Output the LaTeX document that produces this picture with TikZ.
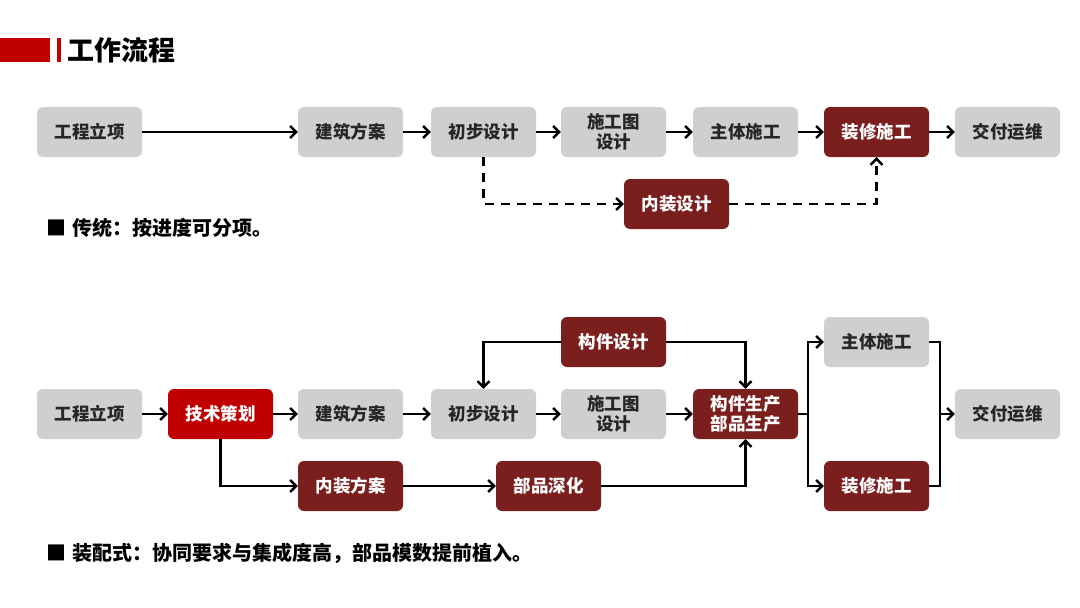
\documentclass[tikz,border=0pt]{standalone}
\usepackage{fontspec}
\setmainfont{Noto Sans CJK SC}
\usetikzlibrary{arrows.meta,positioning}
\definecolor{boxgray}{HTML}{D0CECE}
\definecolor{darkred}{HTML}{7A1E1E}
\definecolor{brightred}{HTML}{C00000}
\definecolor{titlered}{HTML}{C00000}
\definecolor{txt}{HTML}{262626}
\tikzset{
  gbox/.style={rectangle, rounded corners=6pt, fill=boxgray, minimum width=105pt, minimum height=50pt, inner sep=0pt, align=center, font=\fontsize{17.5}{20}\selectfont\bfseries, text=txt},
  rbox/.style={gbox, fill=darkred, text=white},
  bbox/.style={gbox, fill=brightred, text=white},
  conn/.style={line width=2.4pt, draw=black, -{Straight Barb[length=6pt,width=12pt,line width=2.4pt]}},
  plain/.style={line width=2.4pt, draw=black},
  dconn/.style={conn, dash pattern=on 9pt off 7pt},
  bullet/.style={anchor=west, inner sep=0pt, font=\fontsize{20}{22}\selectfont\bfseries, text=black}
}
\begin{document}
\begin{tikzpicture}[x=1pt,y=-1pt]
\useasboundingbox (0,0) rectangle (1080,608);
% title
\fill[titlered] (0,38) rectangle (50,62);
\fill[titlered] (57,38) rectangle (61,62);
\node[anchor=west, inner sep=0pt, font=\fontsize{27}{29}\selectfont\bfseries, text=black] (title) at (67,50) {工作流程};

% top row
\node[gbox] (a1) at (89.5,132) {工程立项};
\node[gbox] (a2) at (350.5,132) {建筑方案};
\node[gbox] (a3) at (483.5,132) {初步设计};
\node[gbox] (a4) at (613.5,132) {施工图\\设计};
\node[gbox] (a5) at (745.5,132) {主体施工};
\node[rbox] (a6) at (876.5,132) {装修施工};
\node[gbox] (a7) at (1007.5,132) {交付运维};
\node[rbox] (a8) at (676.5,204) {内装设计};

\draw[conn] (a1) -- (a2);
\draw[conn] (a2) -- (a3);
\draw[conn] (a3) -- (a4);
\draw[conn] (a4) -- (a5);
\draw[conn] (a5) -- (a6);
\draw[conn] (a6) -- (a7);
\draw[dconn] (a3.south) |- (a8.west);
\draw[dconn] (a8.east) -| (a6.south);

\node[bullet] (t1) at (46,228) {■\hspace{0.3em}传统：按进度可分项。};

% bottom
\node[gbox] (b1) at (89.5,414) {工程立项};
\node[bbox] (b2) at (220.5,414) {技术策划};
\node[gbox] (b3) at (350.5,414) {建筑方案};
\node[gbox] (b4) at (483.5,414) {初步设计};
\node[gbox] (b5) at (613.5,414) {施工图\\设计};
\node[rbox] (b6) at (745.5,414) {构件生产\\部品生产};
\node[gbox] (b7) at (1007.5,414) {交付运维};
\node[rbox] (c1) at (613.5,342) {构件设计};
\node[gbox] (c2) at (876.5,342) {主体施工};
\node[rbox] (d1) at (350.5,486) {内装方案};
\node[rbox] (d2) at (548.5,486) {部品深化};
\node[rbox] (d3) at (876.5,486) {装修施工};

\draw[conn] (b1) -- (b2);
\draw[conn] (b2) -- (b3);
\draw[conn] (b3) -- (b4);
\draw[conn] (b4) -- (b5);
\draw[conn] (b5) -- (b6);
\draw[conn] (c1.west) -| (b4.north);
\draw[conn] (c1.east) -| (b6.north);
\draw[conn] (b2.south) |- (d1.west);
\draw[conn] (d1) -- (d2);
\draw[conn] (d2.east) -| (b6.south);
\coordinate (s1) at (808,414);
\coordinate (s2) at (940,414);
\draw[plain] (b6.east) -- (s1);
\draw[conn] (s1) |- (c2.west);
\draw[conn] (s1) |- (d3.west);
\draw[plain] (c2.east) -| (s2);
\draw[plain] (d3.east) -| (s2);
\draw[conn] (s2) -- (b7.west);

\node[bullet] (t2) at (46,553) {■\hspace{0.3em}装配式：协同要求与集成度高，部品模数提前植入。};
\end{tikzpicture}
\end{document}
